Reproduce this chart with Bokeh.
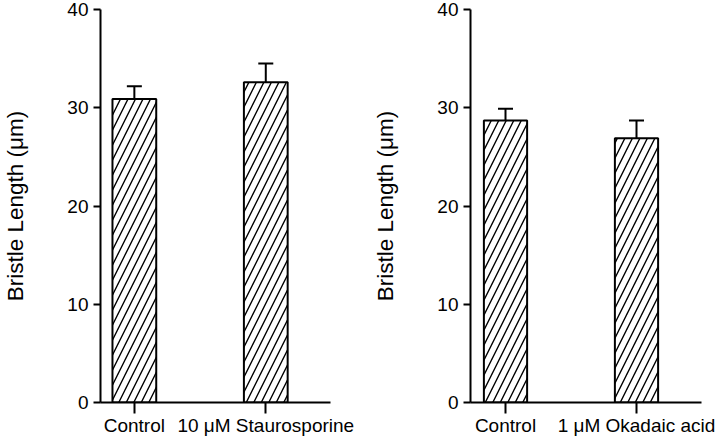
from bokeh.plotting import figure
from bokeh.layouts import row
from bokeh.models import Range1d, Whisker, TeeHead, ColumnDataSource, FixedTicker
from bokeh.embed import file_html
from bokeh.resources import INLINE

# ---- data ----
left_categories = ["Control", "10 \u03bcM Staurosporine"]
left_means = [30.9, 32.6]
left_errors = [1.3, 1.9]

right_categories = ["Control", "1 \u03bcM Okadaic acid"]
right_means = [28.7, 26.9]
right_errors = [1.2, 1.8]

y_ticks = [0, 10, 20, 30, 40]
y_label = "Bristle Length (\u03bcm)"

FONT = "Liberation Sans"


def make_panel(cats, means, errs, width, border_left, border_right, x_start, x_end, bar_width):
    xs = list(range(1, len(cats) + 1))
    src = ColumnDataSource(dict(
        x=xs, m=means, u=[m + e for m, e in zip(means, errs)]
    ))
    p = figure(width=width, height=438, output_backend="svg", toolbar_location=None,
               x_range=Range1d(x_start, x_end), y_range=Range1d(0, 40),
               min_border_left=border_left, min_border_right=border_right,
               min_border_top=9, min_border_bottom=34)
    p.outline_line_color = None
    p.xgrid.visible = False
    p.ygrid.visible = False
    p.background_fill_color = "white"
    p.border_fill_color = "white"

    p.vbar(x="x", top="m", bottom=0, width=bar_width, source=src,
           fill_color="white", line_color="black", line_width=2,
           hatch_pattern="/", hatch_scale=15, hatch_weight=1.4, hatch_color="black")

    w = Whisker(source=src, base="x", lower="m", upper="u", dimension="height",
                lower_head=None,
                upper_head=TeeHead(size=15, line_width=2, line_color="black"),
                line_width=2, line_color="black")
    p.add_layout(w)

    # x axis
    xa = p.xaxis[0]
    xa.ticker = FixedTicker(ticks=xs)
    xa.major_label_overrides = {x: c for x, c in zip(xs, cats)}
    xa.axis_line_width = 2
    xa.axis_line_color = "black"
    xa.major_tick_line_width = 2
    xa.major_tick_out = 11
    xa.major_tick_in = 0
    xa.minor_tick_line_color = None
    xa.major_label_standoff = 1
    xa.axis_label_standoff = 0
    xa.major_label_text_font = FONT
    xa.major_label_text_font_size = "19px"
    xa.major_label_text_color = "black"

    # y axis
    ya = p.yaxis[0]
    ya.ticker = FixedTicker(ticks=y_ticks)
    ya.axis_line_width = 2
    ya.axis_line_color = "black"
    ya.major_tick_line_width = 2
    ya.major_tick_out = 7
    ya.major_tick_in = 0
    ya.minor_tick_line_color = None
    ya.major_label_standoff = 5
    ya.major_label_text_font = FONT
    ya.major_label_text_font_size = "19px"
    ya.major_label_text_color = "black"
    ya.axis_label = y_label
    ya.axis_label_text_font = FONT
    ya.axis_label_text_font_size = "22.5px"
    ya.axis_label_text_font_style = "normal"
    ya.axis_label_text_color = "black"
    ya.axis_label_standoff = 36
    return p


p1 = make_panel(left_categories, left_means, left_errors, 359, 99, 29,
                1 - 34 / 132, 2 + 65 / 132, 0.333)
p2 = make_panel(right_categories, right_means, right_errors, 358, 111, 16,
                1 - 35 / 131, 2 + 65 / 131, 0.33)

layout = row(p1, p2)
open("out.html", "w").write(file_html(layout, INLINE))
